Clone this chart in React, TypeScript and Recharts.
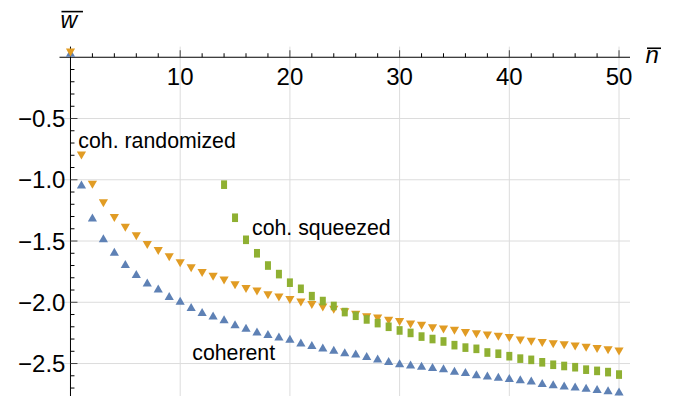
import React from 'react';
import { ScatterChart, Scatter, XAxis, YAxis, ReferenceLine, ReferenceDot } from 'recharts';

const nValues = [
  0, 1, 2, 3, 4, 5, 6, 7, 8, 9, 10, 11, 12, 13, 14, 15, 16, 17, 18, 19, 20,
  21, 22, 23, 24, 25, 26, 27, 28, 29, 30, 31, 32, 33, 34, 35, 36, 37, 38, 39, 40,
  41, 42, 43, 44, 45, 46, 47, 48, 49, 50,
];

const coherent = [
  0.035, -1.04, -1.31, -1.48, -1.59, -1.69, -1.77, -1.84, -1.89, -1.95, -1.99,
  -2.04, -2.08, -2.11, -2.14, -2.18, -2.21, -2.24, -2.26, -2.28, -2.3,
  -2.33, -2.35, -2.37, -2.39, -2.41, -2.42, -2.44, -2.46, -2.48, -2.5,
  -2.51, -2.52, -2.53, -2.54, -2.56, -2.57, -2.59, -2.6, -2.61, -2.62,
  -2.63, -2.64, -2.66, -2.67, -2.68, -2.69, -2.7, -2.71, -2.72, -2.73,
];

const randomized = [
  0.04, -0.8, -1.04, -1.19, -1.31, -1.39, -1.46, -1.53, -1.58, -1.63, -1.68,
  -1.72, -1.76, -1.79, -1.82, -1.86, -1.89, -1.91, -1.94, -1.96, -1.98,
  -2.0, -2.02, -2.04, -2.06, -2.08, -2.1, -2.12, -2.13, -2.15, -2.16,
  -2.18, -2.19, -2.21, -2.22, -2.23, -2.25, -2.26, -2.27, -2.28, -2.29,
  -2.31, -2.32, -2.33, -2.34, -2.35, -2.36, -2.37, -2.38, -2.39, -2.4,
];

const squeezedStart = 14;
const squeezed = [
  -1.04, -1.31, -1.49, -1.6, -1.7, -1.77, -1.84, -1.89, -1.95, -1.99,
  -2.03, -2.08, -2.11, -2.14, -2.17, -2.2, -2.23, -2.25, -2.28, -2.3,
  -2.32, -2.35, -2.37, -2.38, -2.41, -2.42, -2.44, -2.46, -2.47, -2.49,
  -2.51, -2.52, -2.53, -2.55, -2.56, -2.57, -2.59,
];

const xMajorTicks = [10, 20, 30, 40, 50];
const xMinorTicks = [2, 4, 6, 8, 12, 14, 16, 18, 22, 24, 26, 28, 32, 34, 36, 38, 42, 44, 46, 48];
const yMajorTicks = [-0.5, -1.0, -1.5, -2.0, -2.5];
const yMajorLabels = ['−0.5', '−1.0', '−1.5', '−2.0', '−2.5'];
const yMinorTicks = [
  -0.1, -0.2, -0.3, -0.4, -0.6, -0.7, -0.8, -0.9, -1.1, -1.2, -1.3, -1.4,
  -1.6, -1.7, -1.8, -1.9, -2.1, -2.2, -2.3, -2.4, -2.6, -2.7,
];

const curveLabels = [
  { text: 'coh. randomized', x: 0.72, y: -0.74 },
  { text: 'coh. squeezed', x: 16.55, y: -1.451 },
  { text: 'coherent', x: 11.1, y: -2.471 },
];

const X_DOMAIN: [number, number] = [-1, 51];
const Y_DOMAIN: [number, number] = [-2.765, 0.087];

const BLUE = '#5E81B5';
const ORANGE = '#E19C24';
const GREEN = '#8FB032';
const GRID = '#dcdcdc';
const FONT = '"Liberation Sans", Arial, Helvetica, sans-serif';

const coherentData = nValues.map((n, i) => ({ x: n, y: coherent[i] }));
const randomizedData = nValues.map((n, i) => ({ x: n, y: randomized[i] }));
const squeezedData = squeezed.map((v, i) => ({ x: squeezedStart + i, y: v }));

const UpTriangle = (p: any) => {
  const { cx, cy } = p;
  if (cx == null || cy == null) return null;
  return (
    <polygon
      points={`${cx - 4.6},${cy + 3.8} ${cx + 4.6},${cy + 3.8} ${cx},${cy - 4.2}`}
      fill={BLUE}
    />
  );
};

const DownTriangle = (p: any) => {
  const { cx, cy } = p;
  if (cx == null || cy == null) return null;
  return (
    <polygon
      points={`${cx - 4.6},${cy - 3.8} ${cx + 4.6},${cy - 3.8} ${cx},${cy + 4.2}`}
      fill={ORANGE}
    />
  );
};

const Rect = (p: any) => {
  const { cx, cy } = p;
  if (cx == null || cy == null) return null;
  return <rect x={cx - 3} y={cy - 4.3} width={6} height={8.6} fill={GREEN} />;
};

export default function App() {
  return (
    <div style={{ position: 'absolute', left: 0, top: 0, width: 685, height: 396, background: '#fff' }}>
      <ScatterChart
        width={685}
        height={396}
        margin={{ top: 46.6, right: 55, bottom: 0, left: 59.5 }}
      >
        <XAxis type="number" dataKey="x" domain={X_DOMAIN} allowDataOverflow hide />
        <YAxis type="number" dataKey="y" domain={Y_DOMAIN} allowDataOverflow hide />

        {xMajorTicks.map((t) => (
          <ReferenceLine key={`gx${t}`} x={t} stroke={GRID} strokeWidth={1} />
        ))}
        {yMajorTicks.map((t) => (
          <ReferenceLine key={`gy${t}`} y={t} stroke={GRID} strokeWidth={1} />
        ))}

        <ReferenceLine y={0} stroke="#000" strokeWidth={1} />
        <ReferenceLine x={0} stroke="#000" strokeWidth={1} />

        {xMinorTicks.map((t) => (
          <ReferenceDot
            key={`mx${t}`}
            x={t}
            y={0}
            r={0}
            ifOverflow="visible"
            shape={(p: any) => (
              <line x1={p.cx} y1={p.cy} x2={p.cx} y2={p.cy - 4} stroke="#000" strokeWidth={1} />
            )}
          />
        ))}
        {yMinorTicks.map((t) => (
          <ReferenceDot
            key={`my${t}`}
            x={0}
            y={t}
            r={0}
            ifOverflow="visible"
            shape={(p: any) => (
              <line x1={p.cx} y1={p.cy} x2={p.cx + 4} y2={p.cy} stroke="#000" strokeWidth={1} />
            )}
          />
        ))}
        {xMajorTicks.map((t) => (
          <ReferenceDot
            key={`tx${t}`}
            x={t}
            y={0}
            r={0}
            ifOverflow="visible"
            shape={(p: any) => (
              <g>
                <line x1={p.cx} y1={p.cy} x2={p.cx} y2={p.cy - 7} stroke="#444" strokeWidth={1} />
                <text
                  x={p.cx}
                  y={p.cy + 27.7}
                  textAnchor="middle"
                  fontFamily={FONT}
                  fontSize={24}
                  fill="#000"
                >
                  {String(t)}
                </text>
              </g>
            )}
          />
        ))}
        {yMajorTicks.map((t, i) => (
          <ReferenceDot
            key={`ty${t}`}
            x={0}
            y={t}
            r={0}
            ifOverflow="visible"
            shape={(p: any) => (
              <g>
                <line x1={p.cx} y1={p.cy} x2={p.cx + 7} y2={p.cy} stroke="#444" strokeWidth={1} />
                <text
                  x={p.cx - 5}
                  y={p.cy + 8.5}
                  textAnchor="end"
                  fontFamily={FONT}
                  fontSize={24}
                  fill="#000"
                >
                  {yMajorLabels[i]}
                </text>
              </g>
            )}
          />
        ))}

        <Scatter data={coherentData} isAnimationActive={false} shape={UpTriangle} />
        <Scatter data={randomizedData} isAnimationActive={false} shape={DownTriangle} />
        <Scatter data={squeezedData} isAnimationActive={false} shape={Rect} />

        {curveLabels.map((l) => (
          <ReferenceDot
            key={l.text}
            x={l.x}
            y={l.y}
            r={0}
            ifOverflow="visible"
            shape={(p: any) => (
              <text x={p.cx} y={p.cy} fontFamily={FONT} fontSize={21.3} fill="#000">
                {l.text}
              </text>
            )}
          />
        ))}

        <ReferenceDot
          x={51}
          y={0}
          r={0}
          ifOverflow="visible"
          shape={(p: any) => (
            <g>
              <text x={p.cx + 15.5} y={p.cy + 6} fontFamily={FONT} fontSize={24} fontStyle="italic" fill="#000">
                n
              </text>
              <line x1={p.cx + 17} y1={p.cy - 9} x2={p.cx + 31} y2={p.cy - 9} stroke="#000" strokeWidth={1.6} />
            </g>
          )}
        />
        <ReferenceDot
          x={0}
          y={0.087}
          r={0}
          ifOverflow="visible"
          shape={(p: any) => (
            <g>
              <text x={p.cx - 10} y={p.cy - 18.3} fontFamily={FONT} fontSize={23} fontStyle="italic" fill="#000">
                w
              </text>
              <line x1={p.cx - 9} y1={p.cy - 35} x2={p.cx + 12.5} y2={p.cy - 35} stroke="#000" strokeWidth={1.6} />
            </g>
          )}
        />
      </ScatterChart>
    </div>
  );
}
